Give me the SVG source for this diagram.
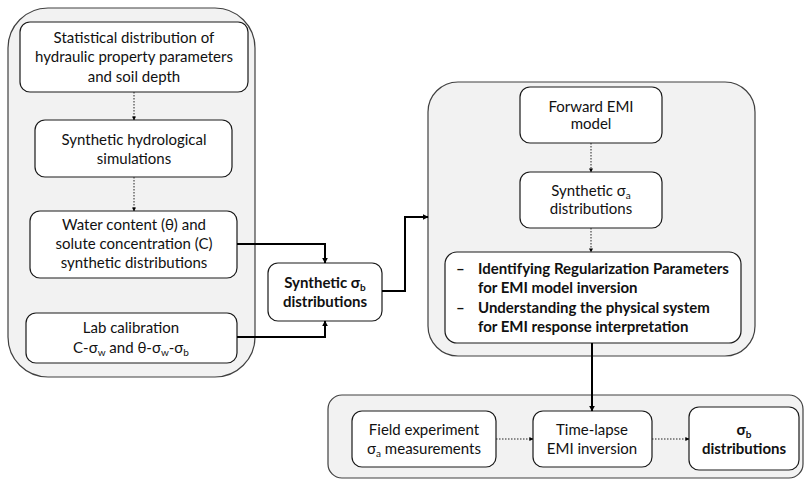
<svg xmlns="http://www.w3.org/2000/svg" width="805" height="480" viewBox="0 0 805 480">
<defs>
<style>
.cont{fill:#f2f2f2;stroke:#404040;stroke-width:1.2}
.box{fill:#fff;stroke:#1a1a1a;stroke-width:1.2}
text{font-family:Lato,"Liberation Sans",sans-serif;font-size:15px;fill:#111;text-anchor:middle}
.b{font-weight:bold}
.l{text-anchor:start}
.sub{font-size:10px}
.solid{fill:none;stroke:#000;stroke-width:2}
.dot{fill:none;stroke:#222;stroke-width:1;stroke-dasharray:1.5 1.5}
</style>
<marker id="ah" viewBox="0 0 10 10" refX="9" refY="5" markerWidth="4" markerHeight="4" orient="auto" markerUnits="userSpaceOnUse"><path d="M0,0 L10,5 L0,10 z" fill="#000"/></marker>
<marker id="ahs" viewBox="0 0 10 10" refX="9" refY="5" markerWidth="6" markerHeight="6" orient="auto" markerUnits="userSpaceOnUse"><path d="M0,0 L10,5 L0,10 z" fill="#000"/></marker>
</defs>
<g id="left-container"><rect class="cont" x="8" y="8" width="247" height="369" rx="40"/></g>
<g id="right-container"><rect class="cont" x="428" y="82" width="327" height="274" rx="30"/></g>
<g id="bottom-container"><rect class="cont" x="328" y="395" width="475" height="83" rx="14"/></g>

<g id="n-stat"><rect class="box" x="20" y="22" width="228" height="70" rx="10"/>
<text x="134" y="43">Statistical distribution of</text>
<text x="134" y="62">hydraulic property parameters</text>
<text x="134" y="82">and soil depth</text></g>

<g id="n-hydro"><rect class="box" x="35" y="120" width="197" height="57" rx="10"/>
<text x="134" y="145">Synthetic hydrological</text>
<text x="134" y="164">simulations</text></g>

<g id="n-water"><rect class="box" x="30" y="211" width="207" height="67" rx="10"/>
<text x="134" y="230">Water content (θ) and</text>
<text x="134" y="249">solute concentration (C)</text>
<text x="134" y="268">synthetic distributions</text></g>

<g id="n-lab"><rect class="box" x="26" y="313" width="211" height="50" rx="10"/>
<text x="131" y="333">Lab calibration</text>
<text x="131" y="353">C-σ<tspan class="sub" dy="2.5">w</tspan><tspan dy="-2.5"> and θ-σ</tspan><tspan class="sub" dy="2.5">w</tspan><tspan dy="-2.5">-σ</tspan><tspan class="sub" dy="2.5">b</tspan></text></g>

<g id="n-synb"><rect class="box" x="268" y="263" width="114" height="58" rx="10"/>
<text class="b" x="325" y="288">Synthetic σ<tspan class="sub" dy="2.5">b</tspan></text>
<text class="b" x="325" y="307">distributions</text></g>

<g id="n-fwd"><rect class="box" x="520" y="87" width="142" height="56" rx="10"/>
<text x="591" y="112">Forward EMI</text>
<text x="591" y="129">model</text></g>

<g id="n-syna"><rect class="box" x="520" y="172" width="142" height="56" rx="10"/>
<text x="591" y="196">Synthetic σ<tspan class="sub" dy="2.5">a</tspan></text>
<text x="591" y="214">distributions</text></g>

<g id="n-bullets"><rect class="box" x="445" y="252" width="296" height="91" rx="12"/>
<text class="b l" x="456" y="274">–</text>
<text class="b l" x="478" y="274">Identifying Regularization Parameters</text>
<text class="b l" x="478" y="293">for EMI model inversion</text>
<text class="b l" x="456" y="313">–</text>
<text class="b l" x="478" y="313">Understanding the physical system</text>
<text class="b l" x="478" y="332">for EMI response interpretation</text></g>

<g id="n-field"><rect class="box" x="352" y="411" width="144" height="56" rx="10"/>
<text x="424" y="435">Field experiment</text>
<text x="424" y="454">σ<tspan class="sub" dy="2.5">a</tspan><tspan dy="-2.5"> measurements</tspan></text></g>

<g id="n-timelapse"><rect class="box" x="533" y="411" width="119" height="56" rx="10"/>
<text x="592" y="435">Time-lapse</text>
<text x="592" y="454">EMI inversion</text></g>

<g id="n-sigb"><rect class="box" x="689" y="407" width="110" height="63" rx="10"/>
<text class="b" x="744" y="435">σ<tspan class="sub" dy="2.5">b</tspan></text>
<text class="b" x="744" y="454">distributions</text></g>

<g id="connectors">
<path class="dot" d="M134,92 V120" marker-end="url(#ah)"/>
<path class="dot" d="M134,177 V211" marker-end="url(#ah)"/>
<path class="solid" d="M237,244 H325 V263" marker-end="url(#ahs)"/>
<path class="solid" d="M237,337 H325 V321" marker-end="url(#ahs)"/>
<path class="solid" d="M382,291 H405 V217 H428" marker-end="url(#ahs)"/>
<path class="dot" d="M591,143 V172" marker-end="url(#ah)"/>
<path class="dot" d="M591,228 V252" marker-end="url(#ah)"/>
<path class="solid" d="M592,343 V411" marker-end="url(#ahs)"/>
<path class="dot" d="M496,439 H533" marker-end="url(#ah)"/>
<path class="dot" d="M652,439 H689" marker-end="url(#ah)"/>
</g>
</svg>
